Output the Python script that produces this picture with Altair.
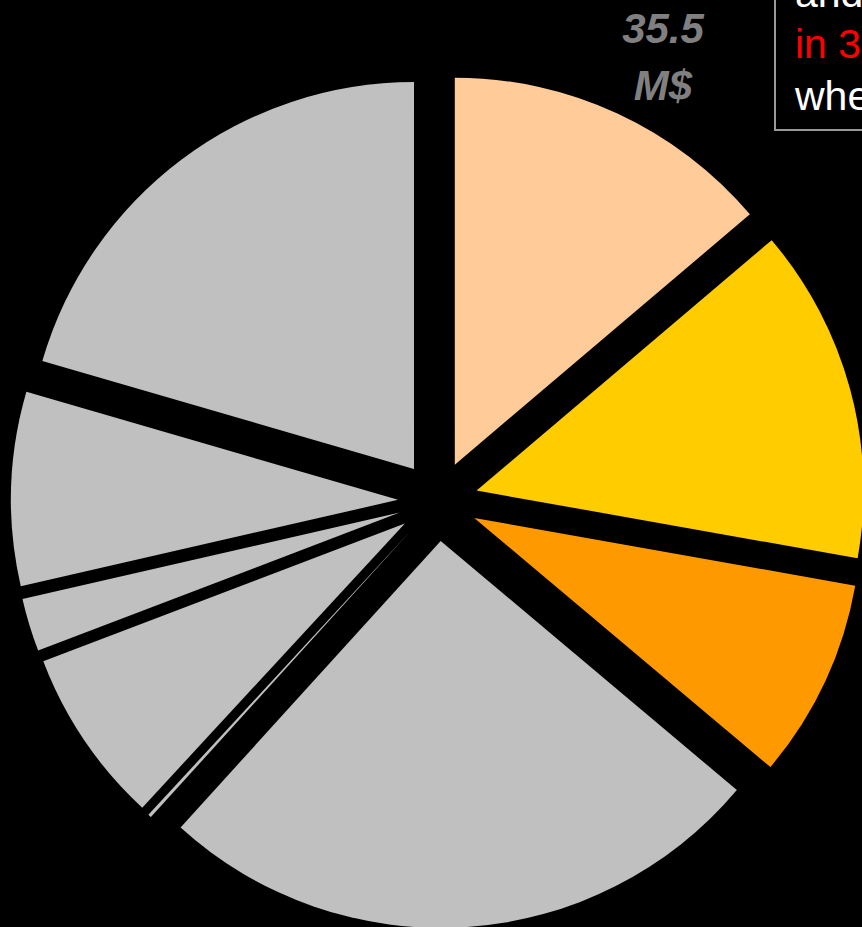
import altair as alt
import pandas as pd

# Slice data (clockwise from 12 o'clock)
categories = ["s1", "s2", "s3", "s4", "s5", "s6", "s7", "s8", "s9"]
values = [13.8, 14.0, 8.33, 25.6, 0.14, 7.33, 2.22, 8.08, 20.5]
colors = ["#FFCC99", "#FFCC00", "#FF9900", "#C0C0C0", "#C0C0C0",
          "#C0C0C0", "#C0C0C0", "#C0C0C0", "#C0C0C0"]

label_lines = ["35.5", "M$"]
note_lines = ["and", "in 3 years", "when"]
note_colors = ["#FFFFFF", "#FF0000", "#FFFFFF"]

# page margin is set to 0 below, so the chart fills the whole 862x927 window
W, H = 862, 927
CX, CY = 438, 501      # pie centre (px)
R = 387                # outer radius (px)
D = 40                 # explode distance (px)

df = pd.DataFrame({"cat": categories, "value": values,
                   "idx": list(range(len(categories)))})

pie = alt.Chart(df).transform_joinaggregate(
    total="sum(value)"
).transform_window(
    cum="sum(value)", sort=[alt.SortField("idx")], frame=[None, 0]
).transform_calculate(
    a1="2*PI*datum.cum/datum.total",
    a0="2*PI*(datum.cum-datum.value)/datum.total",
    mid="(datum.a0+datum.a1)/2",
    cx=f"{CX}+{D}*sin(datum.mid)",
    cy=f"{CY}-{D}*cos(datum.mid)",
).mark_arc(outerRadius=R, innerRadius=0).encode(
    theta=alt.Theta("a0:Q", scale=None),
    theta2="a1:Q",
    x=alt.X("cx:Q", scale=None, axis=None),
    y=alt.Y("cy:Q", scale=None, axis=None),
    color=alt.Color("cat:N", scale=alt.Scale(domain=categories, range=colors), legend=None),
    order=alt.Order("idx:Q"),
)

label = alt.Chart(pd.DataFrame({"t": [0]})).mark_text(
    text=label_lines, font="Liberation Sans", fontSize=42, fontWeight="bold",
    fontStyle="italic", color="#808080", align="center", baseline="alphabetic",
    lineHeight=57,
).encode(x=alt.value(663), y=alt.value(43))

box = alt.Chart(pd.DataFrame({"t": [0]})).mark_rect(
    fill="#000000", stroke="#999999", strokeWidth=2
).encode(x=alt.value(775), x2=alt.value(930), y=alt.value(-30), y2=alt.value(130))

notes_df = pd.DataFrame({"line": note_lines, "col": note_colors,
                         "i": list(range(len(note_lines)))})
notes = alt.Chart(notes_df).transform_calculate(
    py="6.7+51.7*datum.i"
).mark_text(
    font="Liberation Sans", fontSize=41, align="left", baseline="alphabetic"
).encode(
    x=alt.value(795),
    y=alt.Y("py:Q", scale=None, axis=None),
    text="line:N",
    color=alt.Color("col:N", scale=None, legend=None),
)

chart = alt.layer(pie, label, box, notes).properties(
    width=W, height=H, autosize=alt.AutoSizeParams(type="none"), padding=0,
    background="#000000",
).configure_view(stroke=None)

chart.save("out.html", embed_options={
    "renderer": "svg", "actions": False,
    "defaultStyle": "body{background:#000000;margin:0;overflow:hidden}",
})
